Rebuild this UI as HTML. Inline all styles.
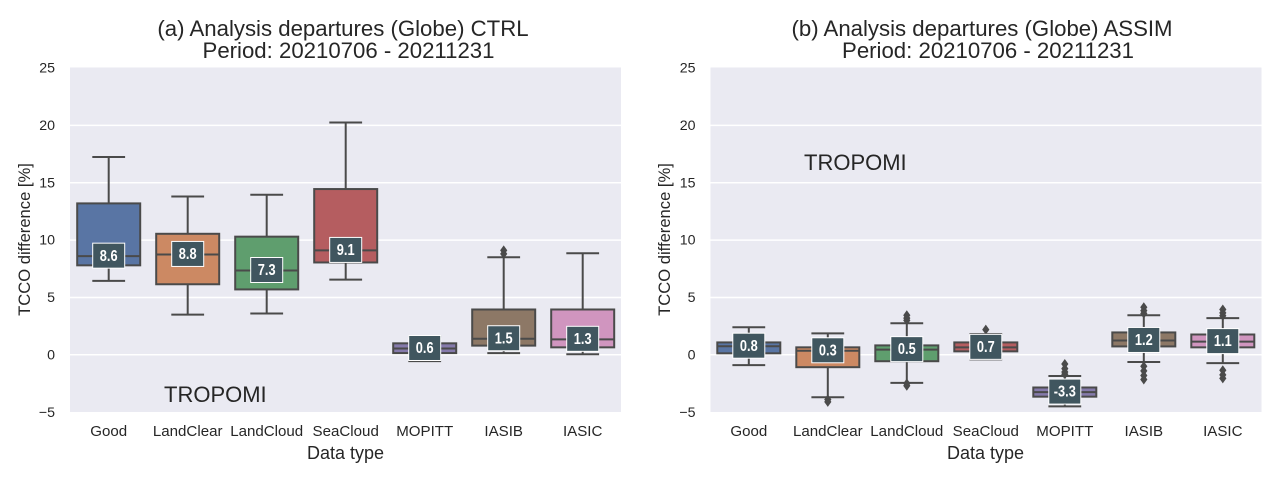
<!DOCTYPE html>
<html lang="en">
<head>
<meta charset="utf-8">
<title>TCCO analysis departures box plots</title>
<style>
html,body{margin:0;padding:0;background:#fff;width:1280px;height:481px;overflow:hidden}
svg{display:block;font-family:"Liberation Sans",Arial,sans-serif}
text{fill:#262626}
</style>
</head>
<body>
<svg id="figure" xmlns="http://www.w3.org/2000/svg" width="1280" height="481" viewBox="0 0 1280 481">
  <rect x="70" y="67.5" width="551" height="344.5" fill="#eaeaf2"/>
  <rect x="710.5" y="67.5" width="551" height="344.5" fill="#eaeaf2"/>
  <g id="panelA"></g>
  <g id="panelB"></g>
  <text x="343" y="36" font-size="22.2" text-anchor="middle">(a) Analysis departures (Globe) CTRL</text>
  <text x="348.5" y="58" font-size="22.2" text-anchor="middle">Period: 20210706 - 20211231</text>
  <text x="982" y="36" font-size="22.2" text-anchor="middle">(b) Analysis departures (Globe) ASSIM</text>
  <text x="988" y="58" font-size="22.2" text-anchor="middle">Period: 20210706 - 20211231</text>
  <text x="345.5" y="459" font-size="18" text-anchor="middle">Data type</text>
  <text x="985.5" y="459" font-size="18" text-anchor="middle">Data type</text>
  <text transform="translate(30,239.5) rotate(-90)" font-size="16.6" text-anchor="middle">TCCO difference [%]</text>
  <text transform="translate(670,239.5) rotate(-90)" font-size="16.6" text-anchor="middle">TCCO difference [%]</text>
  <text x="164" y="402" font-size="22">TROPOMI</text>
  <text x="804" y="170" font-size="22">TROPOMI</text>
</svg>
<script>
const categories = ["Good", "LandClear", "LandCloud", "SeaCloud", "MOPITT", "IASIB", "IASIC"];
const yTicks = [-5, 0, 5, 10, 15, 20, 25];
const colors = ["#5975a4", "#cc8963", "#5f9e6e", "#b55d60", "#857aab", "#8d7866", "#d095bf"];

const ctrlWhiskerHigh = [17.25, 13.8, 13.95, 20.25, 1.6, 8.5, 8.85];
const ctrlQ3 = [13.2, 10.55, 10.3, 14.45, 1.0, 3.95, 3.95];
const ctrlMedian = [8.6, 8.75, 7.35, 9.1, 0.55, 1.4, 1.35];
const ctrlQ1 = [7.8, 6.15, 5.7, 8.05, 0.15, 0.8, 0.65];
const ctrlWhiskerLow = [6.45, 3.5, 3.6, 6.55, -0.55, 0.15, 0.05];
const ctrlFliers = [[], [], [], [], [], [8.8, 9.1], []];
const ctrlLabels = ["8.6", "8.8", "7.3", "9.1", "0.6", "1.5", "1.3"];

const assimWhiskerHigh = [2.4, 1.87, 2.75, 1.8, -1.85, 3.45, 3.2];
const assimQ3 = [1.08, 0.65, 0.82, 1.08, -2.85, 1.95, 1.77];
const assimMedian = [0.75, 0.35, 0.45, 0.65, -3.25, 1.25, 1.15];
const assimQ1 = [0.13, -1.08, -0.56, 0.3, -3.65, 0.73, 0.65];
const assimWhiskerLow = [-0.9, -3.7, -2.45, -0.4, -4.5, -0.63, -0.73];
const assimFliers = [
  [],
  [-3.9, -4.1],
  [3.0, 3.2, 3.45, -2.5, -2.7],
  [2.2],
  [-0.8, -1.2, -1.5, -1.7],
  [3.6, 3.85, 4.15, -1.0, -1.4, -1.8, -2.15],
  [3.4, 3.65, 3.95, -1.35, -1.75, -2.05]
];
const assimLabels = ["0.8", "0.3", "0.5", "0.7", "-3.3", "1.2", "1.1"];

const NS = "http://www.w3.org/2000/svg";
const DARK = "#4a4a4a";

function yScale(v) { return 354.8 - 11.47 * v; }
function xScale(first, i) { return first + i * 79; }

function make(parent, tag, attrs) {
  const el = document.createElementNS(NS, tag);
  for (const k in attrs) el.setAttribute(k, attrs[k]);
  parent.appendChild(el);
  return el;
}

function drawPanel(group, left, first, s, prefix) {
  const right = left + 551;
  yTicks.forEach(function (t) {
    const gy = yScale(t);
    if (t > -5 && t < 25) {
      const grid = make(group, "line", { x1: left, x2: right, y1: gy, y2: gy, stroke: "#fff", "stroke-width": 1.5 });
      
      
    }
    const tick = make(group, "text", { x: left - 15, y: gy + 4.6, "font-size": 14.2, "text-anchor": "end" });
    
    
    tick.textContent = String(t).replace("-", "\u2212");
  });
  categories.forEach(function (cat, i) {
    const cx = xScale(first, i);
    const hw = 31.5, capW = 16.4;
    const box = make(group, "g", {});
    
    
    const lineAttrs = { stroke: DARK, "stroke-width": 2 };
    function seg(x1, y1, x2, y2) {
      return make(box, "line", Object.assign({ x1: x1, y1: y1, x2: x2, y2: y2 }, lineAttrs));
    }
    seg(cx, yScale(s.q3[i]), cx, yScale(s.hi[i]));
    seg(cx, yScale(s.q1[i]), cx, yScale(s.lo[i]));
    seg(cx - capW, yScale(s.hi[i]), cx + capW, yScale(s.hi[i]));
    seg(cx - capW, yScale(s.lo[i]), cx + capW, yScale(s.lo[i]));
    make(box, "rect", {
      x: cx - hw, y: yScale(s.q3[i]), width: 2 * hw,
      height: yScale(s.q1[i]) - yScale(s.q3[i]),
      fill: colors[i], stroke: DARK, "stroke-width": 2
    });
    seg(cx - hw, yScale(s.med[i]), cx + hw, yScale(s.med[i]));
    s.fl[i].forEach(function (f) {
      const fy = yScale(f);
      make(box, "polygon", {
        points: cx + "," + (fy - 5) + " " + (cx + 3.6) + "," + fy + " " + cx + "," + (fy + 5) + " " + (cx - 3.6) + "," + fy,
        fill: DARK
      });
    });
    const tl = make(group, "text", { x: cx, y: 436, "font-size": 15.1, "text-anchor": "middle" });
    
    
    tl.textContent = cat;
  });
  categories.forEach(function (cat, i) {
    const cx = xScale(first, i), my = yScale(s.med[i]);
    const badge = make(group, "rect", { x: cx - 16, y: my - 13, width: 32, height: 25, fill: "#40565f", stroke: "#fff", "stroke-width": 1 });
    
    
    const val = make(group, "text", {
      transform: "translate(" + cx + "," + (my + 4.6) + ") scale(0.8,1)",
      "font-size": 16, "font-weight": "bold", "text-anchor": "middle", style: "fill:#fff"
    });
    
    
    val.textContent = s.labels[i];
  });
}

drawPanel(document.getElementById("panelA"), 70, 108.7, {
  hi: ctrlWhiskerHigh, q3: ctrlQ3, med: ctrlMedian, q1: ctrlQ1, lo: ctrlWhiskerLow, fl: ctrlFliers, labels: ctrlLabels
}, "panel-a");
drawPanel(document.getElementById("panelB"), 710.5, 748.8, {
  hi: assimWhiskerHigh, q3: assimQ3, med: assimMedian, q1: assimQ1, lo: assimWhiskerLow, fl: assimFliers, labels: assimLabels
}, "panel-b");
</script>
</body>
</html>
